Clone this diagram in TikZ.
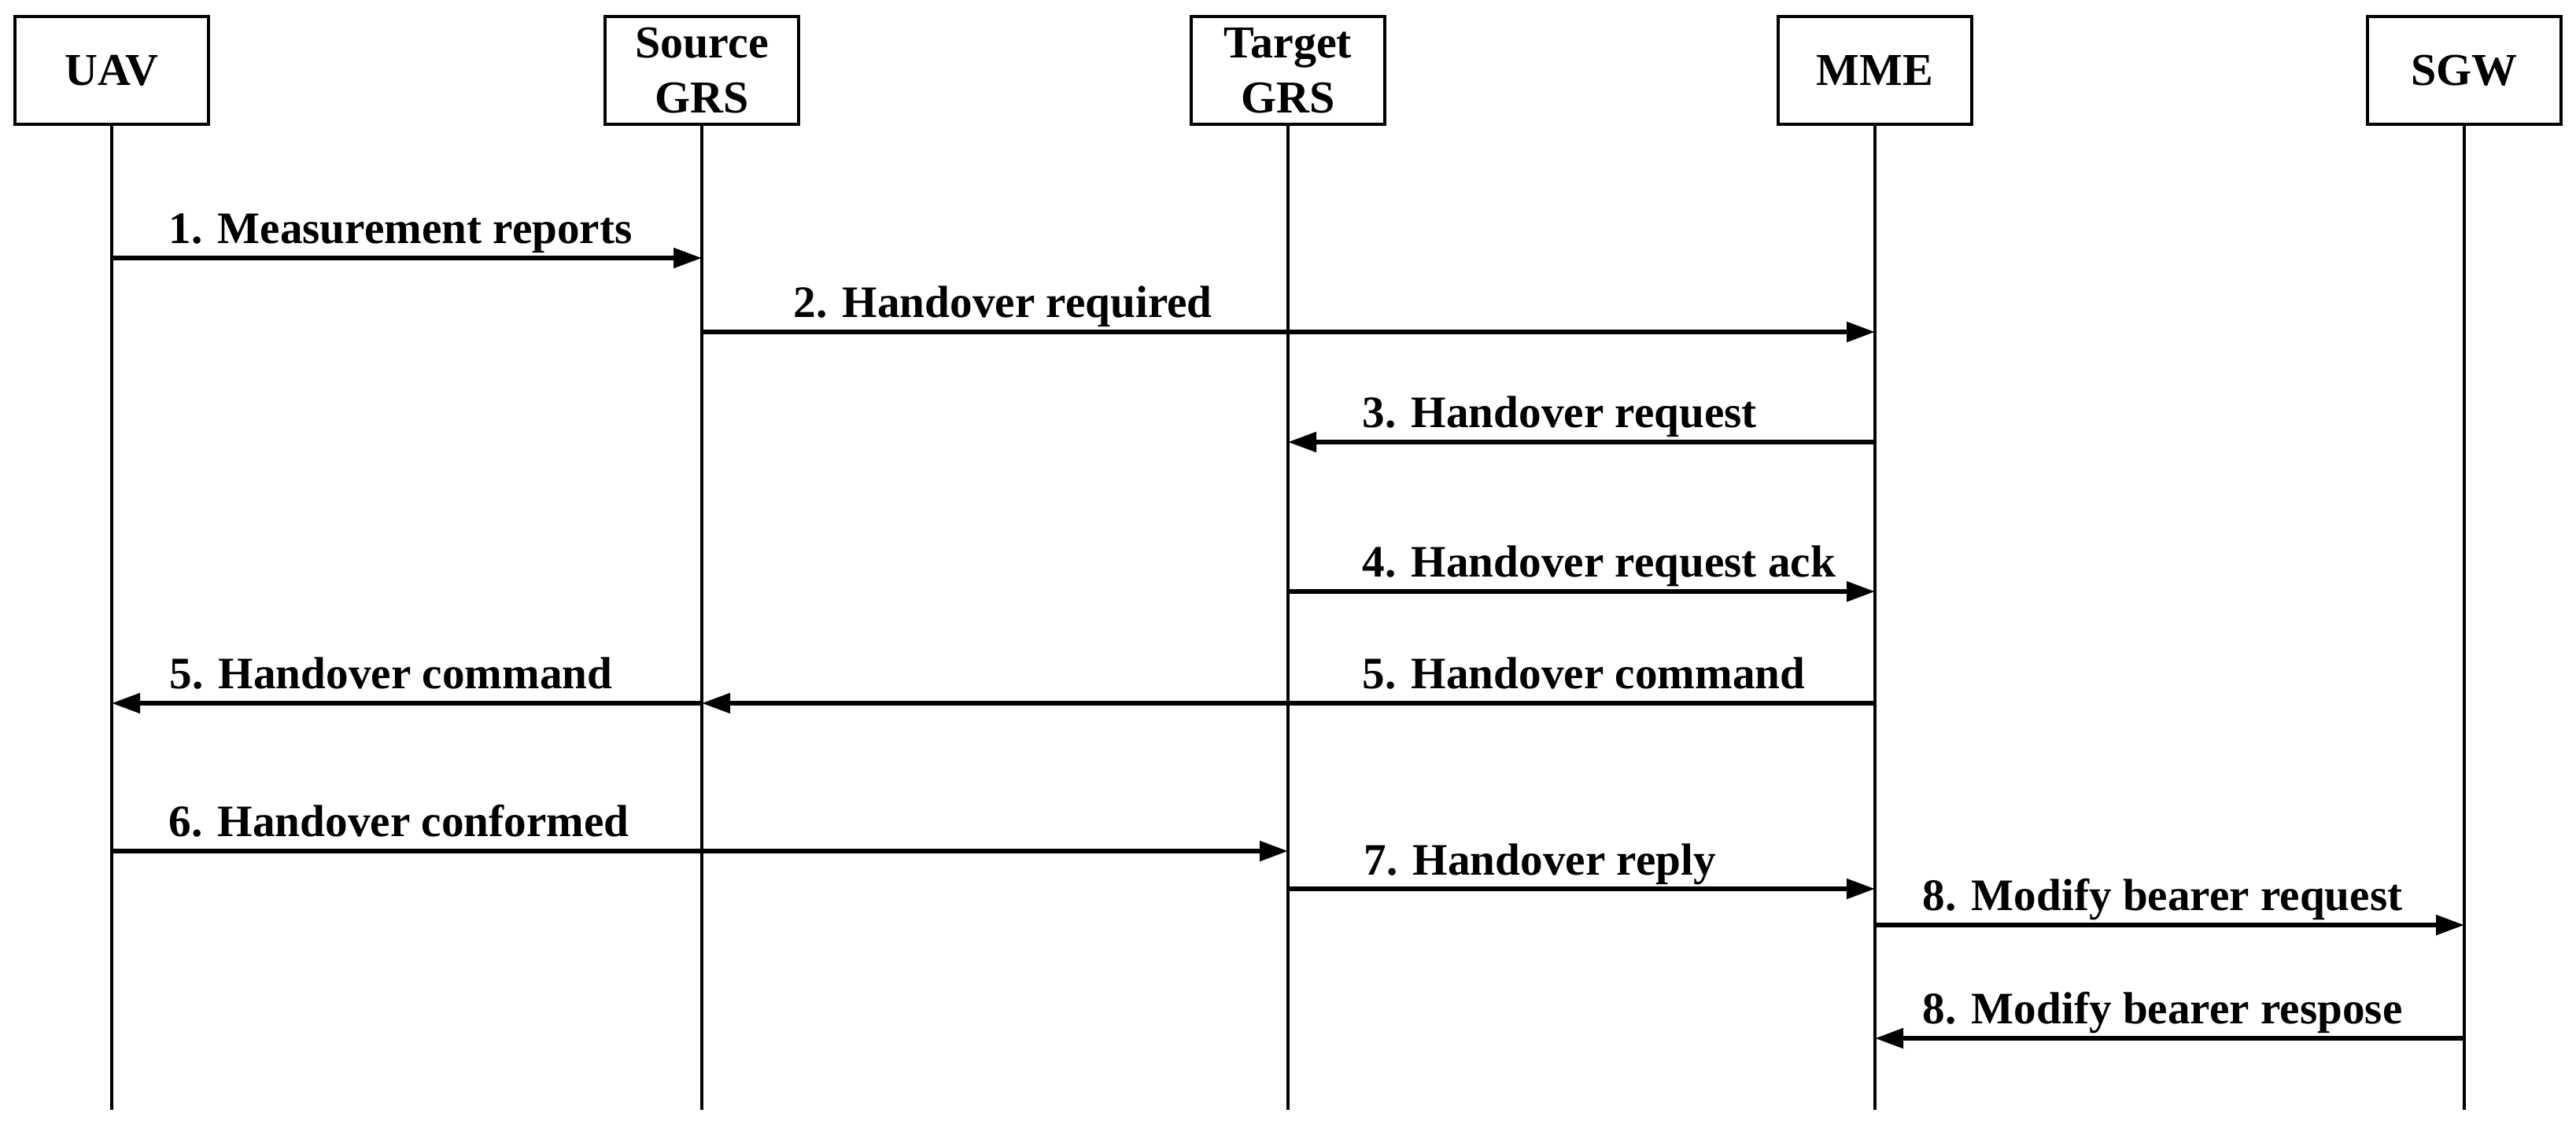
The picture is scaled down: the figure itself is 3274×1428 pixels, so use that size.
\documentclass[tikz,border=0pt]{standalone}
\usepackage{fontspec}
\setmainfont{Liberation Serif}
\usetikzlibrary{arrows.meta}
\begin{document}
\begin{tikzpicture}[x=0.25pt,y=-0.25pt,
  actor/.style={draw,line width=1pt,minimum width=61.5pt,minimum height=34.25pt,inner sep=0pt,align=center,
    font=\fontsize{14.5}{17.5}\selectfont\bfseries},
  life/.style={line width=0.9pt},
  msg/.style={line width=1.4pt,-{Triangle[length=9pt,width=6.2pt]}},
  lbl/.style={anchor=base west,inner sep=0pt,font=\fontsize{14.3}{17}\selectfont\bfseries}]
\useasboundingbox (0,0) rectangle (3274,1428);
% actors
\node[actor] (uav) at (142,89.5) {UAV};
\node[actor] (src) at (892,89.5) {Source\\GRS};
\node[actor] (tgt) at (1637,89.5) {Target\\GRS};
\node[actor] (mme) at (2383,89.5) {MME};
\node[actor] (sgw) at (3132,89.5) {SGW};
% lifeline ends
\coordinate (bot) at (0,1411);
\foreach \n in {uav,src,tgt,mme,sgw}{\draw[life] (\n.south) -- (\n |- bot);}
% message levels
\coordinate (y1) at (0,328);
\coordinate (y2) at (0,422);
\coordinate (y3) at (0,562);
\coordinate (y4) at (0,752);
\coordinate (y5) at (0,894);
\coordinate (y6) at (0,1082);
\coordinate (y7) at (0,1130);
\coordinate (y8) at (0,1176);
\coordinate (y9) at (0,1320);
% messages
\draw[msg] (uav |- y1) -- (src |- y1);
\draw[msg] (src |- y2) -- (mme |- y2);
\draw[msg] (mme |- y3) -- (tgt |- y3);
\draw[msg] (tgt |- y4) -- (mme |- y4);
\draw[msg] (mme |- y5) -- (src |- y5);
\draw[msg] (src |- y5) -- (uav |- y5);
\draw[msg] (uav |- y6) -- (tgt |- y6);
\draw[msg] (tgt |- y7) -- (mme |- y7);
\draw[msg] (mme |- y8) -- (sgw |- y8);
\draw[msg] (sgw |- y9) -- (mme |- y9);
% labels
\node[lbl] (l1) at (214,309) {1. Measurement reports};
\node[lbl] (l2) at (1008,403) {2. Handover required};
\node[lbl] (l3) at (1731,543) {3. Handover request};
\node[lbl] (l4) at (1731,733) {4. Handover request ack};
\node[lbl] (l5a) at (215,875) {5. Handover command};
\node[lbl] (l5b) at (1731,875) {5. Handover command};
\node[lbl] (l6) at (214,1063) {6. Handover conformed};
\node[lbl] (l7) at (1733,1112) {7. Handover reply};
\node[lbl] (l8) at (2443,1157) {8. Modify bearer request};
\node[lbl] (l9) at (2443,1301) {8. Modify bearer respose};
\end{tikzpicture}
\end{document}
